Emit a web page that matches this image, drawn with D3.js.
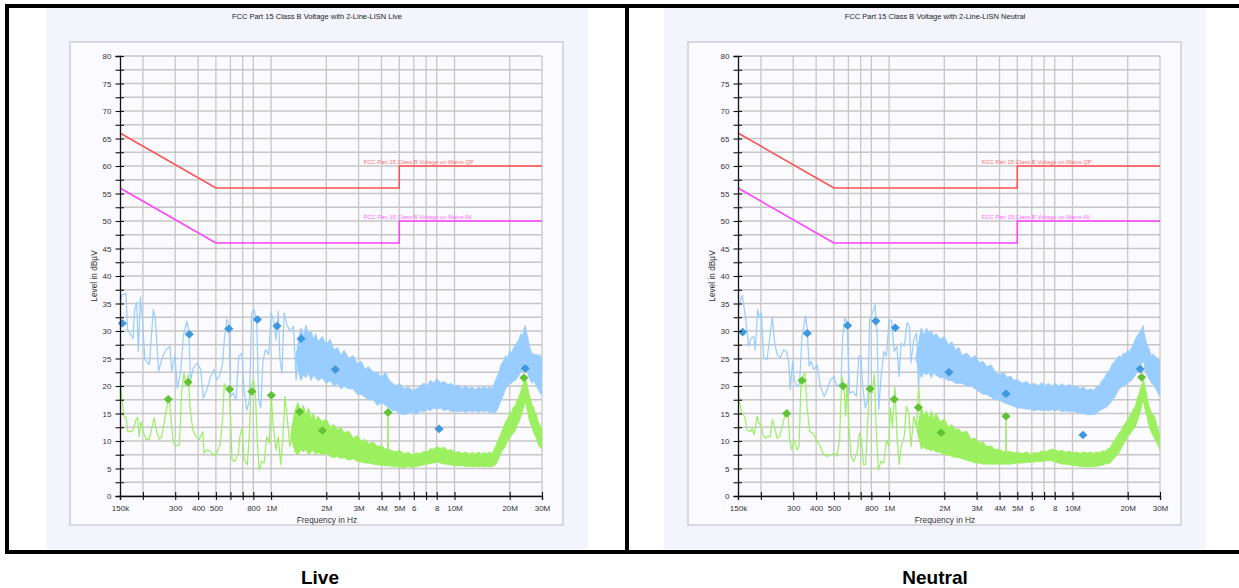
<!DOCTYPE html>
<html><head><meta charset="utf-8">
<script src="https://cdn.jsdelivr.net/npm/d3@7"></script>
<style>
body{margin:0;background:#fff}
svg{display:block}
text{font-family:"Liberation Sans",Arial,sans-serif}
</style>
</head><body>
<svg id="chart" width="1239" height="588"></svg>
<script>
// ---- axis definitions (frequency in MHz, level in dBµV) ----
const xTickValues = [0.15,0.2,0.3,0.4,0.5,0.6,0.7,0.8,1,2,3,4,5,6,7,8,10,20,30];
const xTickLabels = ["150k","","300","400","500","","","800","1M","2M","3M","4M","5M","6","","8","10M","20M","30M"];
const xGridValues = [0.2,0.3,0.4,0.5,0.6,0.7,0.8,1,2,3,4,5,6,7,8,10,20,30];
const yTickValues = [0,2.5,5,7.5,10,12.5,15,17.5,20,22.5,25,27.5,30,32.5,35,37.5,40,42.5,45,47.5,50,52.5,55,57.5,60,62.5,65,67.5,70,72.5,75,77.5,80];

// ---- limit lines ----
const limitFreq = [0.15, 0.5, 5, 5, 30];
const limitQP   = [66, 56, 56, 60, 60];
const limitAV   = [56, 46, 46, 50, 50];

// ---- Live: peak trace [MHz, dB] and dense band [MHz, low, high] ----
const livePeakLine = [[0.150,35.0],[0.1538,36.6],[0.1617,36.8],[0.165,30.3],[0.170,29.6],[0.1766,28.6],[0.1803,33.9],[0.185,35.2],[0.1888,26.3],[0.1937,36.2],[0.1993,31.5],[0.205,24.8],[0.2168,23.9],[0.228,33.9],[0.2339,32.1],[0.2438,22.7],[0.253,24.8],[0.267,26.6],[0.281,27.2],[0.287,22.7],[0.299,25.5],[0.308,19.6],[0.321,22.4],[0.332,29.0],[0.347,31.8],[0.355,30.3],[0.364,21.1],[0.377,23.3],[0.396,24.2],[0.413,23.0],[0.427,17.8],[0.446,19.3],[0.468,21.7],[0.488,23.0],[0.505,21.1],[0.527,22.1],[0.544,24.2],[0.558,29.0],[0.573,32.1],[0.588,31.5],[0.602,18.1],[0.622,18.7],[0.644,17.5],[0.666,25.4],[0.694,25.9],[0.712,19.3],[0.737,15.6],[0.761,17.2],[0.784,33.3],[0.808,33.9],[0.835,31.8],[0.856,17.5],[0.878,16.0],[0.901,24.2],[0.931,26.6],[0.971,25.7],[1.000,33.3],[1.029,32.1],[1.064,28.4],[1.095,33.6],[1.118,24.8],[1.146,22.4],[1.178,33.3],[1.217,31.2],[1.266,30.0],[1.324,30.9],[1.368,21.1],[1.416,27.8],[1.475,30.3]];
const livePeakBand = [[1.36,25,25],[1.45,21,30.5],[1.5,22,29],[1.55,21.5,31],[1.6,22.5,29.5],[1.65,21,30],[1.7,22,28.5],[1.75,21.5,29.5],[1.8,21,28],[1.9,21.5,29],[2.0,20.5,27.5],[2.1,21,28.5],[2.2,20,26.5],[2.3,20.5,27],[2.4,19.5,25.5],[2.5,20,26.5],[2.65,19.5,25],[2.8,19.5,25.5],[2.95,18.5,24],[3.1,18.5,24.5],[3.25,18,23],[3.4,17.5,23.5],[3.6,17.5,22.5],[3.8,16.5,22.5],[4.0,17,21.5],[4.2,16.5,22.5],[4.4,16,21],[4.6,15.5,20.5],[4.8,15.5,20],[5.0,15,20.5],[5.3,14.8,19.5],[5.6,15,19.8],[5.9,15.3,19.2],[6.2,14.8,19.5],[6.5,15.5,20],[6.8,15.3,20.5],[7.1,15.8,20],[7.4,15.5,21],[7.7,16,20.5],[8.0,15.8,21.3],[8.4,16,20.5],[8.8,15.5,20.8],[9.2,15.8,20.2],[9.6,15.3,20.5],[10,15.5,19.8],[10.5,15.3,20.2],[11,15.5,19.5],[11.5,15.2,20],[12,15.5,19.5],[12.5,15.3,19.8],[13,15.5,19.3],[13.5,15.2,19.8],[14,15.5,19.5],[14.5,15.3,20],[15,15.5,19.5],[15.5,15.2,19.8],[16,15.3,19.5],[16.5,15,20.5],[17,15.5,21.5],[17.5,16.5,22.5],[18,17.5,24],[18.5,18.5,24.5],[19,19.5,25.5],[19.5,20,25],[20,20.5,26.5],[20.5,20.5,26],[21,21,27],[21.5,21,27.5],[22,21.5,28],[22.5,22,28.5],[23,22.5,29.5],[23.5,23,29],[24,24,30.5],[24.3,24.5,31],[24.6,24,30],[25,22.5,29],[25.5,21.5,27.5],[26,21,26.5],[26.5,20.5,25.5],[27,21,26],[27.5,20.5,25.5],[28,20,25.8],[28.5,19.5,25.3],[29,19,25.8],[29.5,18.5,25],[30,18.5,25.5]];

// ---- Live: average trace and band ----
const liveAvgLine = [[0.150,21.3],[0.1538,17.5],[0.1576,14.5],[0.1617,14.3],[0.1658,11.7],[0.1722,11.7],[0.177,12.0],[0.1834,13.9],[0.187,14.3],[0.191,10.8],[0.195,13.5],[0.201,11.7],[0.208,10.3],[0.2168,10.3],[0.230,14.2],[0.238,11.7],[0.245,10.3],[0.253,10.8],[0.264,14.2],[0.272,16.9],[0.279,17.5],[0.287,12.6],[0.293,9.6],[0.303,9.1],[0.316,9.3],[0.325,18.7],[0.335,22.4],[0.344,19.9],[0.354,22.1],[0.361,16.3],[0.374,12.0],[0.390,10.8],[0.406,10.3],[0.424,11.7],[0.431,7.8],[0.446,8.4],[0.468,8.1],[0.484,7.3],[0.505,7.8],[0.527,9.3],[0.544,13.9],[0.556,20.5],[0.573,19.3],[0.590,19.3],[0.602,13.9],[0.612,6.6],[0.636,6.3],[0.663,7.8],[0.676,10.8],[0.694,12.3],[0.712,6.6],[0.742,5.7],[0.761,11.1],[0.777,19.9],[0.801,21.1],[0.821,18.7],[0.842,9.6],[0.860,4.7],[0.887,6.3],[0.916,6.0],[0.946,10.8],[0.978,9.6],[1.000,18.4],[1.029,12.6],[1.064,8.4],[1.095,10.8],[1.128,5.7],[1.157,10.2],[1.191,18.1],[1.227,13.9],[1.266,9.0],[1.313,12.6],[1.350,15.1]];
const liveAvgBand = [[1.28,11,11],[1.35,8,15.5],[1.4,7.5,17],[1.45,8.5,15],[1.5,8,16.5],[1.55,8.5,14.5],[1.6,7.5,16],[1.65,8,14],[1.7,8.3,15],[1.75,7.5,13.5],[1.8,8,14.5],[1.9,7.5,13.5],[2.0,7.8,14],[2.1,7.2,12.5],[2.2,7,13],[2.3,7.2,12],[2.4,6.8,12.5],[2.5,7,11.5],[2.65,6.5,11.8],[2.8,6.8,10.5],[2.95,6.3,11],[3.1,6.2,10],[3.25,6,10.3],[3.4,6,9.5],[3.6,5.8,9.8],[3.8,5.7,9],[4.0,5.6,9.2],[4.2,5.5,8.5],[4.32,5.5,8.7],[4.34,5.5,15.2],[4.36,5.5,8.5],[4.6,5.4,8.2],[4.8,5.3,8],[5.0,5.3,8.3],[5.3,5.2,7.7],[5.6,5.4,7.9],[5.9,5.2,7.5],[6.2,5.4,7.8],[6.5,5.5,7.7],[6.8,5.7,8.1],[7.1,5.8,8],[7.4,5.9,8.6],[7.7,6.0,8.5],[8.0,6.2,9.0],[8.4,6.0,8.6],[8.8,5.8,8.9],[9.2,5.8,8.2],[9.6,5.6,8.5],[10,5.6,7.8],[10.5,5.5,8.1],[11,5.5,7.7],[11.5,5.4,8.0],[12,5.4,7.6],[12.5,5.3,7.9],[13,5.4,7.6],[13.5,5.3,8],[14,5.4,7.6],[14.5,5.3,7.9],[15,5.4,7.7],[15.5,5.3,8],[16,5.4,7.7],[16.5,5.5,8.5],[17,6,9.5],[17.5,7,10.5],[18,8,11.5],[18.5,8.5,12.5],[19,9.2,13.5],[19.5,10,14],[20,10.5,15],[20.5,11,15.3],[21,11.5,16.2],[21.5,12,16.5],[22,13,17.5],[22.5,13.5,18],[23,14.5,19],[23.5,15.5,20],[24,16.5,21],[24.3,17.5,22],[24.6,16.5,21],[25,15.5,20],[25.5,14,18.5],[26,13,17.5],[26.5,12.5,16.5],[27,11.5,16.2],[27.5,11,15],[28,10.5,14.8],[28.5,9.5,13.5],[29,9,13.2],[29.5,8.8,12.5],[30,8.5,12.6]];

// ---- Live: final measurement points ----
const livePeakMarks = [[0.1545,31.4],[0.358,29.4],[0.588,30.4],[0.842,32.1],[1.077,30.9],[1.457,28.6],[2.24,23.0],[8.24,12.2],[24.3,23.2]];
const liveAvgMarks  = [[0.275,17.6],[0.353,20.7],[0.594,19.4],[0.785,19.0],[1.003,18.3],[1.43,15.3],[1.905,11.9],[4.34,15.2],[23.9,21.5]];

// ---- Neutral: peak trace and band ----
const neutralPeakLine = [[0.150,33.6],[0.1522,34.8],[0.1584,36.5],[0.1644,32.7],[0.1715,27.2],[0.1766,28.7],[0.1826,29.0],[0.1864,26.6],[0.192,33.9],[0.197,32.4],[0.201,33.3],[0.207,25.1],[0.216,24.8],[0.225,29.6],[0.231,32.6],[0.237,28.1],[0.245,25.7],[0.255,25.1],[0.266,26.6],[0.276,26.3],[0.284,24.2],[0.289,19.3],[0.298,24.5],[0.304,21.1],[0.315,19.9],[0.325,20.5],[0.335,29.0],[0.350,32.7],[0.358,30.3],[0.366,23.6],[0.375,24.5],[0.388,23.0],[0.405,23.9],[0.422,19.9],[0.443,18.1],[0.459,19.3],[0.479,21.1],[0.500,21.7],[0.520,19.9],[0.547,20.5],[0.558,29.0],[0.575,32.4],[0.590,31.5],[0.609,18.7],[0.636,19.0],[0.663,18.1],[0.683,25.4],[0.702,25.5],[0.721,19.3],[0.742,16.0],[0.765,17.5],[0.784,32.1],[0.812,33.3],[0.838,34.8],[0.860,29.6],[0.878,15.7],[0.904,21.7],[0.936,26.3],[0.968,25.4],[1.000,32.1],[1.032,31.8],[1.066,26.3],[1.104,27.2],[1.134,21.7],[1.163,27.8],[1.210,27.2],[1.253,31.5],[1.290,30.9],[1.317,24.2],[1.362,28.4],[1.410,29.6],[1.449,19.3],[1.485,30.3]];
const neutralPeakBand = [[1.40,25,25],[1.5,21.5,30.5],[1.55,22.5,29],[1.6,22,30.5],[1.65,22.5,29.5],[1.7,21.5,30],[1.75,22.5,29],[1.8,22,29.5],[1.9,21.5,28.5],[2.0,21.5,29],[2.1,21,27.5],[2.2,21,28],[2.3,20.5,26.5],[2.4,20.5,27],[2.5,20.5,25.5],[2.65,20,26],[2.8,20,25],[2.95,19.5,25.5],[3.1,19,24.2],[3.25,18.5,24.5],[3.4,18.5,23.5],[3.6,18,23.8],[3.8,17.5,22.5],[4.0,17.5,22],[4.2,17,22.5],[4.4,16.8,21.5],[4.6,16.5,21.8],[4.8,16.3,21],[5.0,16,21.2],[5.3,16,20.5],[5.6,15.8,20.8],[5.9,15.8,20.2],[6.2,15.5,20.5],[6.5,15.7,20],[6.8,15.5,20.6],[7.1,15.7,20],[7.4,15.5,20.5],[7.7,15.7,19.8],[8.0,15.5,20.5],[8.4,15.7,20],[8.8,15.3,20.4],[9.2,15.5,19.8],[9.6,15.3,20.3],[10,15.5,19.8],[10.5,15.2,20],[11,15.2,19.5],[11.5,15,19.8],[12,14.8,19.2],[12.5,14.8,19.5],[13,14.8,19.2],[13.5,15,19.8],[14,15.5,20],[14.5,15.8,21],[15,16,21.5],[15.5,16.3,22.5],[16,16.8,23],[16.5,17.5,24],[17,18,24.5],[17.5,18.8,25],[18,19.5,25.5],[18.5,19.8,25.2],[19,20,26],[19.5,20.3,25.8],[20,20.5,26.5],[20.5,20.8,26.2],[21,21,27],[21.5,21.5,27.5],[22,22,28.5],[22.5,22.5,29],[23,23,29.5],[23.5,23.5,30],[24,24.5,30.5],[24.3,24.5,31],[24.6,24,29.5],[25,22.5,28.5],[25.5,22,27.5],[26,21.5,27],[26.5,21,26],[27,20.5,25.5],[27.5,20.3,25.8],[28,20,25.5],[28.5,19.5,25.2],[29,19,25],[29.5,18.5,24.8],[30,18,24.5]];

// ---- Neutral: average trace and band ----
const neutralAvgLine = [[0.150,20.5],[0.1519,17.2],[0.1577,15.1],[0.163,14.5],[0.168,12.0],[0.175,11.7],[0.1796,12.3],[0.184,11.1],[0.1905,14.5],[0.195,13.2],[0.201,12.9],[0.205,11.1],[0.2115,10.5],[0.218,10.8],[0.225,10.8],[0.231,13.9],[0.237,12.6],[0.245,10.5],[0.253,10.8],[0.264,13.2],[0.272,15.1],[0.280,15.7],[0.287,10.2],[0.294,8.4],[0.304,10.2],[0.315,8.4],[0.323,9.0],[0.331,21.1],[0.339,21.7],[0.348,22.4],[0.357,16.3],[0.369,11.7],[0.385,11.4],[0.401,10.2],[0.422,9.0],[0.440,7.5],[0.459,7.2],[0.479,7.5],[0.500,7.8],[0.520,7.2],[0.537,10.2],[0.552,21.7],[0.567,19.9],[0.580,14.5],[0.590,20.5],[0.604,12.6],[0.620,7.2],[0.642,6.3],[0.669,7.8],[0.689,11.4],[0.707,10.2],[0.725,5.7],[0.746,5.7],[0.765,13.9],[0.784,19.9],[0.808,18.7],[0.831,22.1],[0.852,11.4],[0.874,4.7],[0.904,6.3],[0.936,6.0],[0.968,10.2],[0.995,9.0],[1.017,16.0],[1.044,12.6],[1.077,19.9],[1.104,10.8],[1.134,5.7],[1.163,9.0],[1.210,10.8],[1.242,16.3],[1.281,15.1],[1.317,9.0],[1.362,14.5],[1.410,12.6],[1.449,19.9],[1.485,15.1]];
const neutralAvgBand = [[1.42,12,12],[1.5,8.5,16],[1.55,9,14.5],[1.6,8.5,15.5],[1.65,8.5,14],[1.7,8.2,15.5],[1.75,8.5,13.8],[1.8,8,15],[1.9,8,13.5],[2.0,7.5,14],[2.1,7.5,12.5],[2.2,7.2,13],[2.3,7,12],[2.4,7,12.2],[2.5,6.8,11.5],[2.65,6.5,11.8],[2.8,6.3,10.3],[2.95,6,10.5],[3.1,6,9.6],[3.25,5.8,9.8],[3.4,5.8,9],[3.6,5.8,9.1],[3.8,5.8,8.4],[4.0,5.8,8.5],[4.2,5.8,8.0],[4.32,5.8,8.1],[4.34,5.8,14.5],[4.36,5.8,8.0],[4.6,5.8,8.1],[4.8,5.9,7.8],[5.0,6.0,8],[5.3,6.0,7.7],[5.6,6.1,8],[5.9,6.2,7.6],[6.2,6.2,7.9],[6.5,6.3,7.8],[6.8,6.3,8.2],[7.1,6.4,8],[7.4,6.4,8.3],[7.7,6.4,8.5],[8.0,6.2,8.4],[8.4,6.0,8.1],[8.8,5.8,8.3],[9.2,5.8,7.9],[9.6,5.7,8.2],[10,5.6,7.8],[10.5,5.5,8],[11,5.4,7.7],[11.5,5.3,8],[12,5.3,7.8],[12.5,5.3,8],[13,5.4,7.7],[13.5,5.4,8],[14,5.5,7.8],[14.5,5.6,8.2],[15,5.8,8.1],[15.5,5.9,8.5],[16,6.0,8.7],[16.5,6.5,9.5],[17,7.0,10.2],[17.5,7.5,10.8],[18,8.0,11.5],[18.5,8.8,12],[19,9.5,12.8],[19.5,10.2,13.3],[20,10.8,13.9],[20.5,11.2,14.5],[21,11.7,15.2],[21.5,12.2,15.8],[22,12.6,16.3],[22.5,13.5,17.5],[23,14.5,18.5],[23.5,15.5,19.5],[24,16.9,20.5],[24.3,17.5,22],[24.6,16.5,20.5],[25,15.5,19.5],[25.5,14.5,18],[26,13,16.5],[26.5,12.2,15.8],[27,11.5,15.2],[27.5,11,14.8],[28,10.5,14.5],[28.5,10,13.5],[29,9.5,12.5],[29.5,9,11.8],[30,8.4,10.5]];

// ---- Neutral: final measurement points ----
const neutralPeakMarks = [[0.159,29.8],[0.358,29.6],[0.594,31.0],[0.846,31.8],[1.08,30.6],[2.12,22.5],[4.34,18.6],[11.4,11.1],[23.4,23.1]];
const neutralAvgMarks  = [[0.276,15.0],[0.335,21.0],[0.561,20.0],[0.787,19.5],[1.066,17.6],[1.444,16.1],[1.92,11.5],[4.34,14.5],[23.8,21.6]];

// ---- colours ----
const COL = {
  page:"#f4f4fc", frame:"#fbfbff", frameStroke:"#cdcdd3", grid:"#c6c6c6",
  qp:"#ff5050", av:"#ff40ff", peak:"#99ccff", avg:"#9cf060",
  peakMark:"#3d98de", avgMark:"#62c236", axis:"#111", text:"#333"
};

const svg = d3.select("#chart");
svg.append("rect").attr("width",1239).attr("height",588).attr("fill","#fff");

const x = d3.scaleLog().domain([0.15,30]).range([120,542]);
const y = d3.scaleLinear().domain([0,80]).range([496,56]);

const diamond = "M0,-4.3L4.6,0L0,4.3L-4.6,0Z";

function drawPanel(dx, title, peakLine, peakBand, avgLine, avgBand, peakMarks, avgMarks) {
  const g = svg.append("g").attr("transform", `translate(${dx},0)`);

  g.append("rect").attr("x",46).attr("y",8).attr("width",542).attr("height",541).attr("fill",COL.page);
  g.append("rect").attr("x",70).attr("y",42).attr("width",493).attr("height",483)
    .attr("fill",COL.frame).attr("stroke",COL.frameStroke).attr("stroke-width",1.5);

  g.append("text").attr("x",317).attr("y",18.5).attr("text-anchor","middle")
    .attr("font-size",7.5).attr("fill","#222").text(title);

  // grid
  const grid = g.append("g").attr("stroke",COL.grid).attr("stroke-width",1.3);
  grid.selectAll("line.h").data(yTickValues).join("line").attr("class","h")
    .attr("x1",x(0.15)).attr("x2",x(30)).attr("y1",d=>y(d)).attr("y2",d=>y(d));
  grid.selectAll("line.v").data(xGridValues).join("line").attr("class","v")
    .attr("x1",d=>x(d)).attr("x2",d=>x(d)).attr("y1",y(0)).attr("y2",y(80));

  // limit lines and their labels
  const limLine = d3.line().x(d=>x(d[0])).y(d=>y(d[1]));
  g.append("path").attr("d",limLine(limitFreq.map((f,i)=>[f,limitQP[i]])))
    .attr("fill","none").attr("stroke",COL.qp).attr("stroke-width",1.5);
  g.append("path").attr("d",limLine(limitFreq.map((f,i)=>[f,limitAV[i]])))
    .attr("fill","none").attr("stroke",COL.av).attr("stroke-width",1.5);
  g.append("text").attr("x",x(3.2)).attr("y",y(60)-2.5).attr("font-size",5.8)
    .attr("fill","#ff7070").text("FCC Part 15 Class B Voltage on Mains QP");
  g.append("text").attr("x",x(3.2)).attr("y",y(50)-2.5).attr("font-size",5.8)
    .attr("fill","#ff66ff").text("FCC Part 15 Class B Voltage on Mains AV");

  // traces
  const tr = d3.line().x(d=>x(d[0])).y(d=>y(d[1]));
  const band = d3.area().x(d=>x(d[0])).y0(d=>y(d[1])).y1(d=>y(d[2]));
  const traces = g.append("g").attr("clip-path","url(#plotClip)");
  traces.append("path").attr("d",band(peakBand)).attr("fill",COL.peak)
    .attr("stroke",COL.peak).attr("stroke-width",1).attr("stroke-linejoin","miter");
  traces.append("path").attr("d",tr(peakLine)).attr("fill","none")
    .attr("stroke",COL.peak).attr("stroke-width",1.2).attr("stroke-linejoin","round");
  traces.append("path").attr("d",band(avgBand)).attr("fill",COL.avg)
    .attr("stroke",COL.avg).attr("stroke-width",1).attr("stroke-linejoin","miter");
  traces.append("path").attr("d",tr(avgLine)).attr("fill","none")
    .attr("stroke",COL.avg).attr("stroke-width",1.2).attr("stroke-linejoin","round");

  // final measurement markers
  g.append("g").selectAll("path").data(peakMarks).join("path")
    .attr("d",diamond).attr("transform",d=>`translate(${x(d[0])},${y(d[1])})`).attr("fill",COL.peakMark);
  g.append("g").selectAll("path").data(avgMarks).join("path")
    .attr("d",diamond).attr("transform",d=>`translate(${x(d[0])},${y(d[1])})`).attr("fill",COL.avgMark);

  // axes
  const yAxis = g.append("g").attr("transform",`translate(${x(0.15)},0)`)
    .call(d3.axisLeft(y).tickValues(yTickValues).tickSize(4.5).tickPadding(4)
      .tickFormat(d => d % 5 === 0 ? d : ""));
  yAxis.select(".domain").attr("stroke",COL.axis).attr("stroke-width",1.3);
  yAxis.selectAll(".tick line").attr("x1",4).attr("stroke",COL.axis).attr("stroke-width",1.1);
  yAxis.selectAll(".tick text").attr("font-size",8).attr("fill",COL.text).attr("font-family","Liberation Sans, Arial");

  const xAxis = g.append("g").attr("transform",`translate(0,${y(0)})`)
    .call(d3.axisBottom(x).tickValues(xTickValues).tickSize(4).tickPadding(5)
      .tickFormat((d,i) => xTickLabels[i]));
  xAxis.select(".domain").attr("stroke",COL.axis).attr("stroke-width",1.3);
  xAxis.selectAll(".tick line").attr("y1",-4).attr("stroke",COL.axis).attr("stroke-width",1.1);
  xAxis.selectAll(".tick text").attr("font-size",8).attr("fill",COL.text).attr("font-family","Liberation Sans, Arial");

  g.append("text").attr("x",327).attr("y",522.5).attr("text-anchor","middle")
    .attr("font-size",8.3).attr("fill",COL.text).text("Frequency in Hz");
  g.append("text").attr("transform","translate(97,276) rotate(-90)").attr("text-anchor","middle")
    .attr("font-size",8.3).attr("fill",COL.text).text("Level in dBµV");
}

svg.append("defs").append("clipPath").attr("id","plotClip").append("rect")
  .attr("x",x(0.15)).attr("y",y(80)).attr("width",x(30)-x(0.15)).attr("height",y(0)-y(80));

drawPanel(0, "FCC Part 15 Class B Voltage with 2-Line-LISN Live",
  livePeakLine, livePeakBand, liveAvgLine, liveAvgBand, livePeakMarks, liveAvgMarks);
drawPanel(618, "FCC Part 15 Class B Voltage with 2-Line-LISN Neutral",
  neutralPeakLine, neutralPeakBand, neutralAvgLine, neutralAvgBand, neutralPeakMarks, neutralAvgMarks);

// outer black frame with the divider between panels
const frame = svg.append("g").attr("stroke","#000").attr("stroke-width",4);
frame.append("line").attr("x1",5).attr("x2",1239).attr("y1",6).attr("y2",6);
frame.append("line").attr("x1",5).attr("x2",1239).attr("y1",552).attr("y2",552);
frame.append("line").attr("x1",7).attr("x2",7).attr("y1",4).attr("y2",554);
frame.append("line").attr("x1",627).attr("x2",627).attr("y1",4).attr("y2",554);

// captions under each panel
svg.append("text").attr("x",320).attr("y",584).attr("text-anchor","middle")
  .attr("font-size",19).attr("font-weight","bold").attr("fill","#000").text("Live");
svg.append("text").attr("x",935).attr("y",584).attr("text-anchor","middle")
  .attr("font-size",19).attr("font-weight","bold").attr("fill","#000").text("Neutral");
</script>
</body></html>
